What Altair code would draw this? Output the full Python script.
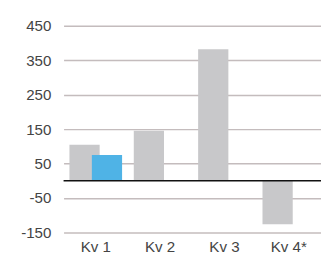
import altair as alt
import pandas as pd

quarters = ["Kv 1", "Kv 2", "Kv 3", "Kv 4*"]
series_a = [105, 145, 382, -126]
series_b_quarters = ["Kv 1"]
series_b = [75]
y_ticks = [-150, -50, 50, 150, 250, 350, 450]

df_a = pd.DataFrame({"q": quarters, "v": series_a})
df_b = pd.DataFrame({"q": series_b_quarters, "v": series_b})

font = "Liberation Sans"
text_color = "#444444"

x_enc = alt.X("q:N", sort=quarters, scale=alt.Scale(domain=quarters, paddingInner=0, paddingOuter=0),
              axis=alt.Axis(title=None, labelAngle=0, ticks=False, domain=False,
                            labelPadding=7, labelFontSize=15.5, labelFont=font,
                            labelColor=text_color, grid=False))
y_enc = alt.Y("v:Q", scale=alt.Scale(domain=[-150, 450], nice=False, zero=False),
              axis=alt.Axis(title=None, values=y_ticks, tickCount=20, ticks=False, domain=False,
                            labelPadding=13, labelFontSize=15.5, labelFont=font,
                            labelColor=text_color, grid=True, gridColor="#c4bcbd",
                            gridWidth=1.5, labelOverlap=False,
                            labelExpr="toString(datum.value)"))

bars_a = alt.Chart(df_a).mark_bar(width=31, xOffset=-11.5, color="#c8c8ca").encode(x=x_enc, y=y_enc)
bars_b = alt.Chart(df_b).mark_bar(width=31, xOffset=11.5, color="#4fb3e6").encode(x=x_enc, y=y_enc)

zero = alt.Chart(pd.DataFrame({"v": [0]})).mark_rule(color="#111111", strokeWidth=1.5).encode(
    y="v:Q"
)

chart = alt.layer(bars_a, bars_b, zero).properties(
    width=264, height=212,
    autosize=alt.AutoSizeParams(type="none"),
    padding={"left": 57, "top": 15, "right": 0, "bottom": 26},
).configure_view(stroke=None)

chart.save("out.html", embed_options={"renderer": "svg", "actions": False})
